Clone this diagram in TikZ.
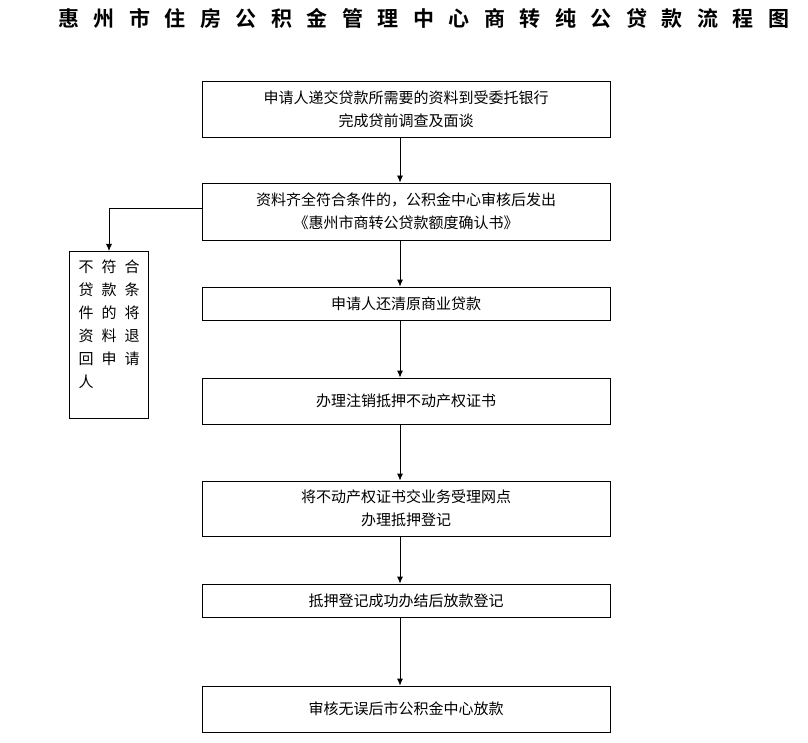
\documentclass[tikz,border=0pt]{standalone}
\usepackage{fontspec}
\usetikzlibrary{arrows.meta}
\newfontfamily\cjk{Noto Sans CJK SC}
\newfontfamily\cjkb{Noto Sans CJK SC Bold}
\begin{document}
\begin{tikzpicture}[x=1pt,y=-1pt,
  box/.style={draw,line width=0.8pt,minimum width=408pt,align=center,font=\cjk\fontsize{15}{23}\selectfont,inner sep=0pt},
  arr/.style={-{Latex[length=7pt,width=6pt]},line width=0.8pt}]
\useasboundingbox (0,0) rectangle (808,743);
\node[font=\cjkb\fontsize{21}{21}\selectfont] (t) at (424,18) {惠\hspace{14.5pt}州\hspace{14.5pt}市\hspace{14.5pt}住\hspace{14.5pt}房\hspace{14.5pt}公\hspace{14.5pt}积\hspace{14.5pt}金\hspace{14.5pt}管\hspace{14.5pt}理\hspace{14.5pt}中\hspace{14.5pt}心\hspace{14.5pt}商\hspace{14.5pt}转\hspace{14.5pt}纯\hspace{14.5pt}公\hspace{14.5pt}贷\hspace{14.5pt}款\hspace{14.5pt}流\hspace{14.5pt}程\hspace{14.5pt}图};
\node[box,minimum height=56pt] (b1) at (406,109) {申请人递交贷款所需要的资料到受委托银行\\完成贷前调查及面谈};
\node[box,minimum height=57pt] (b2) at (406,211.5) {资料齐全符合条件的，公积金中心审核后发出\\《惠州市商转公贷款额度确认书》};
\node[box,minimum height=33pt] (b3) at (406,303.5) {申请人还清原商业贷款};
\node[box,minimum height=46pt] (b4) at (406,401) {办理注销抵押不动产权证书};
\node[box,minimum height=55pt] (b5) at (406,508.5) {将不动产权证书交业务受理网点\\办理抵押登记};
\node[box,minimum height=33pt] (b6) at (406,600.5) {抵押登记成功办结后放款登记};
\node[box,minimum height=46pt] (b7) at (406,709) {审核无误后市公积金中心放款};
\node[draw,line width=0.8pt,minimum width=79pt,minimum height=167pt,anchor=north west,inner sep=0pt] (l) at (69,251) {};
\node[anchor=north west,align=left,font=\cjk\fontsize{15}{23}\selectfont] at (75,256) {不\hspace{8pt}符\hspace{8pt}合\\贷\hspace{8pt}款\hspace{8pt}条\\件\hspace{8pt}的\hspace{8pt}将\\资\hspace{8pt}料\hspace{8pt}退\\回\hspace{8pt}申\hspace{8pt}请\\人};
\draw[arr] (b1.south-|400,0) -- (b2.north-|400,0);
\draw[arr] (b2.south-|400,0) -- (b3.north-|400,0);
\draw[arr] (b3.south-|400,0) -- (b4.north-|400,0);
\draw[arr] (b4.south-|400,0) -- (b5.north-|400,0);
\draw[arr] (b5.south-|400,0) -- (b6.north-|400,0);
\draw[arr] (b6.south-|400,0) -- (b7.north-|400,0);
\draw[arr] (b2.west|-0,208) -| (l.north-|109,0);
\end{tikzpicture}
\end{document}
